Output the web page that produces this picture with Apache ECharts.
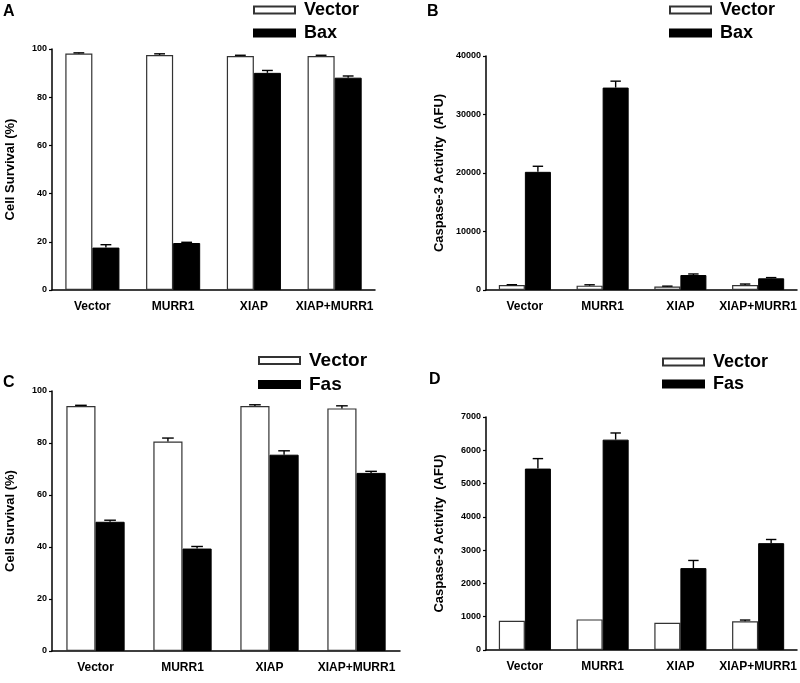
<!DOCTYPE html>
<html>
<head>
<meta charset="utf-8">
<script src="https://cdn.jsdelivr.net/npm/echarts@6/dist/echarts.min.js"></script>
<style>html,body{margin:0;padding:0;background:#fff}#c{width:800px;height:683px}</style>
</head>
<body>
<div id="c"></div>
<script>
// ---- data ----
var categories = ['Vector', 'MURR1', 'XIAP', 'XIAP+MURR1'];

// Panel A: Cell Survival (%), Bax
var aVector = [98.1, 97.5, 97.1, 97.1];
var aVectorErr = [0.3, 0.5, 0.3, 0.3];
var aBax = [17.6, 19.5, 90.1, 88.1];
var aBaxErr = [1.2, 0.3, 1.0, 0.7];

// Panel B: Caspase-3 Activity (AFU), Bax
var bVector = [850, 740, 580, 850];
var bVectorErr = [60, 150, 80, 170];
var bBax = [20200, 34600, 2560, 2000];
var bBaxErr = [950, 1100, 180, 120];

// Panel C: Cell Survival (%), Fas
var cVector = [94.2, 80.6, 94.2, 93.3];
var cVectorErr = [0.3, 1.3, 0.5, 1.0];
var cFas = [49.7, 39.4, 75.5, 68.5];
var cFasErr = [0.6, 0.8, 1.5, 0.6];

// Panel D: Caspase-3 Activity (AFU), Fas
var dVector = [880, 920, 820, 860];
var dVectorErr = [0, 0, 0, 40];
var dFas = [5450, 6320, 2460, 3210];
var dFasErr = [300, 200, 230, 110];

// y-axis ticks
var yMax = [100, 40000, 100, 7000];
var yInterval = [20, 10000, 20, 1000];
var yNames = ['Cell Survival (%)', 'Caspase-3 Activity  (AFU)', 'Cell Survival (%)', 'Caspase-3 Activity  (AFU)'];
var panelLetters = ['A', 'B', 'C', 'D'];
var treatNames = ['Bax', 'Bax', 'Fas', 'Fas'];

// ---- chart ----
var FONT = '"Liberation Sans", Arial, Helvetica, sans-serif';
var GAP = 0.33;
var chart = echarts.init(document.getElementById('c'), null, {renderer: 'canvas'});

var grids = [
  {left: 52, top: 49, width: 323, height: 241},
  {left: 486, top: 56, width: 311, height: 234},
  {left: 52, top: 391, width: 348, height: 260},
  {left: 486, top: 417, width: 311, height: 233}
];
var nameGaps = [35, 40, 35, 40];

function errRender(side) {
  return function (params, api) {
    var x = api.value(0), v = api.value(1), t = api.value(2);
    if (t <= v) return null;
    var c0 = api.coord([x, v]);
    var c1 = api.coord([x, t]);
    var band = api.size([1, 0])[0];
    var bw = band * (1 - GAP) / 2;
    var cx = c0[0] + side * bw / 2;
    var hw = bw * 0.2;
    return {
      type: 'group',
      children: [
        {type: 'line', shape: {x1: cx, y1: c0[1], x2: cx, y2: c1[1]}, style: {stroke: '#000', lineWidth: 1.4}},
        {type: 'line', shape: {x1: cx - hw, y1: c1[1], x2: cx + hw, y2: c1[1]}, style: {stroke: '#000', lineWidth: 1.4}}
      ]
    };
  };
}

function errData(vals, errs) {
  return vals.map(function (v, j) { return [j, v, v + errs[j]]; });
}

var panels = [
  [aVector, aVectorErr, aBax, aBaxErr],
  [bVector, bVectorErr, bBax, bBaxErr],
  [cVector, cVectorErr, cFas, cFasErr],
  [dVector, dVectorErr, dFas, dFasErr]
];

var xAxes = [], yAxes = [], series = [];
panels.forEach(function (p, i) {
  xAxes.push({
    type: 'category', gridIndex: i, data: categories,
    axisLine: {lineStyle: {color: '#000', width: 1.5}},
    axisTick: {alignWithLabel: true, length: 3, lineStyle: {color: '#000', width: 1.2}},
    axisLabel: {color: '#000', fontFamily: FONT, fontWeight: 'bold', fontSize: 12, margin: 11, interval: 0},
    splitLine: {show: false}
  });
  yAxes.push({
    type: 'value', gridIndex: i, min: 0, max: yMax[i], interval: yInterval[i],
    name: yNames[i], nameLocation: 'middle', nameGap: nameGaps[i],
    nameTextStyle: {color: '#000', fontFamily: FONT, fontWeight: 'bold', fontSize: 13},
    axisLine: {show: true, lineStyle: {color: '#000', width: 1.5}},
    axisTick: {show: true, length: 3, lineStyle: {color: '#000', width: 1.2}},
    axisLabel: {color: '#000', fontFamily: FONT, fontWeight: 'bold', fontSize: 9, margin: 5,
      formatter: function (v) { return String(v); }},
    splitLine: {show: false}
  });
  series.push({
    type: 'bar', name: 'Vector', xAxisIndex: i, yAxisIndex: i, data: p[0],
    barGap: '0%', barCategoryGap: (GAP * 100) + '%',
    itemStyle: {color: '#fff', borderColor: '#333', borderWidth: 1.2},
    emphasis: {disabled: true}, animation: false
  });
  series.push({
    type: 'bar', name: treatNames[i], xAxisIndex: i, yAxisIndex: i, data: p[2],
    barGap: '0%', barCategoryGap: (GAP * 100) + '%',
    itemStyle: {color: '#000', borderColor: '#000', borderWidth: 1},
    emphasis: {disabled: true}, animation: false
  });
  series.push({
    type: 'custom', xAxisIndex: i, yAxisIndex: i, renderItem: errRender(-1),
    data: errData(p[0], p[1]), encode: {x: 0, y: [1, 2]}, z: 5, silent: true, animation: false
  });
  series.push({
    type: 'custom', xAxisIndex: i, yAxisIndex: i, renderItem: errRender(1),
    data: errData(p[2], p[3]), encode: {x: 0, y: [1, 2]}, z: 5, silent: true, animation: false
  });
});

var legendPos = [
  {left: 253, top: 1, gap: 5, fs: 18},
  {left: 669, top: 1, gap: 5, fs: 18},
  {left: 258, top: 351, gap: 5, fs: 19},
  {left: 662, top: 353, gap: 4, fs: 18}
];
var legends = legendPos.map(function (l, i) {
  return {
    data: ['Vector', treatNames[i]], orient: 'vertical', left: l.left, top: l.top, padding: 0,
    itemWidth: 41, itemHeight: 7, itemGap: l.gap, icon: 'rect', selectedMode: false,
    textStyle: {color: '#000', fontFamily: FONT, fontWeight: 'bold', fontSize: l.fs, padding: [0, 0, 0, 4]}
  };
});

var titlePos = [[3, 4], [427, 4], [3, 375], [429, 372]];
var titles = titlePos.map(function (t, i) {
  return {text: panelLetters[i], left: t[0], top: t[1], padding: 0,
    textStyle: {color: '#000', fontFamily: FONT, fontWeight: 'bold', fontSize: 16}};
});

chart.setOption({
  backgroundColor: '#fff',
  animation: false,
  title: titles,
  legend: legends,
  grid: grids,
  xAxis: xAxes,
  yAxis: yAxes,
  series: series
});
</script>
</body>
</html>
